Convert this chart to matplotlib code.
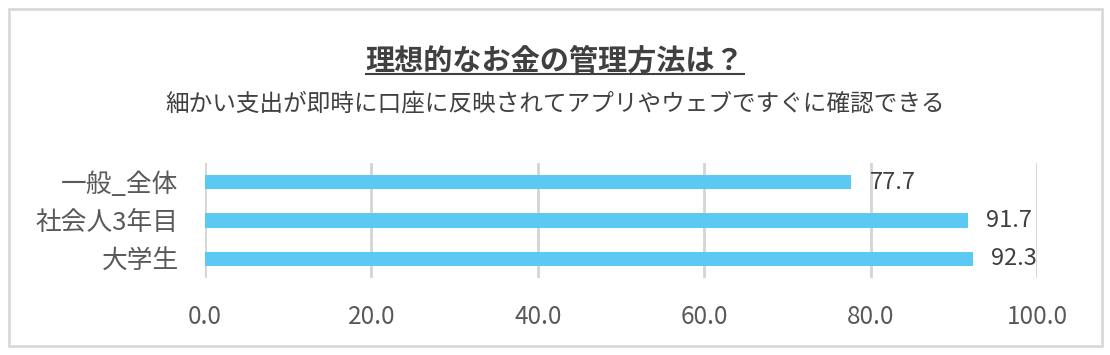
import matplotlib.pyplot as plt
from matplotlib.lines import Line2D
from matplotlib.patches import Rectangle

plt.rcParams['font.family'] = ['Noto Sans CJK JP', 'DejaVu Sans']

# data (top to bottom as shown)
categories = ['一般_全体', '社会人3年目', '大学生']
values = [77.7, 91.7, 92.3]
xticks = [0, 20, 40, 60, 80, 100]

title = '理想的なお金の管理方法は？'
subtitle = '細かい支出が即時に口座に反映されてアプリやウェブですぐに確認できる'

bar_color = '#5BC9F1'
grid_color = '#D4D4D4'
text_color = '#595959'
dark_text = '#404040'

fig = plt.figure(figsize=(11.1, 3.55), dpi=100)
ax = fig.add_axes([0.1847, 0.2169, 0.7495, 0.324])

ypos = list(range(len(categories)))[::-1]
ax.barh(ypos, values, height=0.37, color=bar_color, zorder=3)
for y, v in zip(ypos, values):
    ax.text(v + 2.2, y, f'{v:.1f}', va='center', ha='left',
            fontsize=17, color=dark_text, zorder=4)

ax.set_xlim(0, 100)
ax.set_ylim(-0.5, len(categories) - 0.5)
ax.set_xticks(xticks)
ax.set_xticklabels([f'{t:.1f}' for t in xticks])
ax.set_yticks(ypos)
ax.set_yticklabels(categories)
ax.tick_params(axis='x', length=0, pad=19, labelsize=17.5, labelcolor=text_color)
ax.tick_params(axis='y', length=0, pad=19, labelsize=18.5, labelcolor=text_color)
ax.grid(axis='x', color=grid_color, linewidth=2, zorder=0)
for s in ax.spines.values():
    s.set_visible(False)

t = fig.text(0.5, 0.83, title, ha='center', va='center', fontsize=21,
             fontweight='bold', color=dark_text)
fig.text(0.5, 0.707, subtitle, ha='center', va='center', fontsize=17,
         color=dark_text)

# underline for the title
fig.canvas.draw()
bb = t.get_window_extent().transformed(fig.transFigure.inverted())
fig.add_artist(Line2D([bb.x0, bb.x1], [bb.y0 + 0.004, bb.y0 + 0.004],
                      transform=fig.transFigure, color=dark_text, linewidth=1.5))

# outer frame
fig.add_artist(Rectangle((0.008, 0.025), 0.985, 0.95, transform=fig.transFigure,
                         fill=False, edgecolor='#D9D9D9', linewidth=2))

fig.savefig('out.png', dpi=100)
